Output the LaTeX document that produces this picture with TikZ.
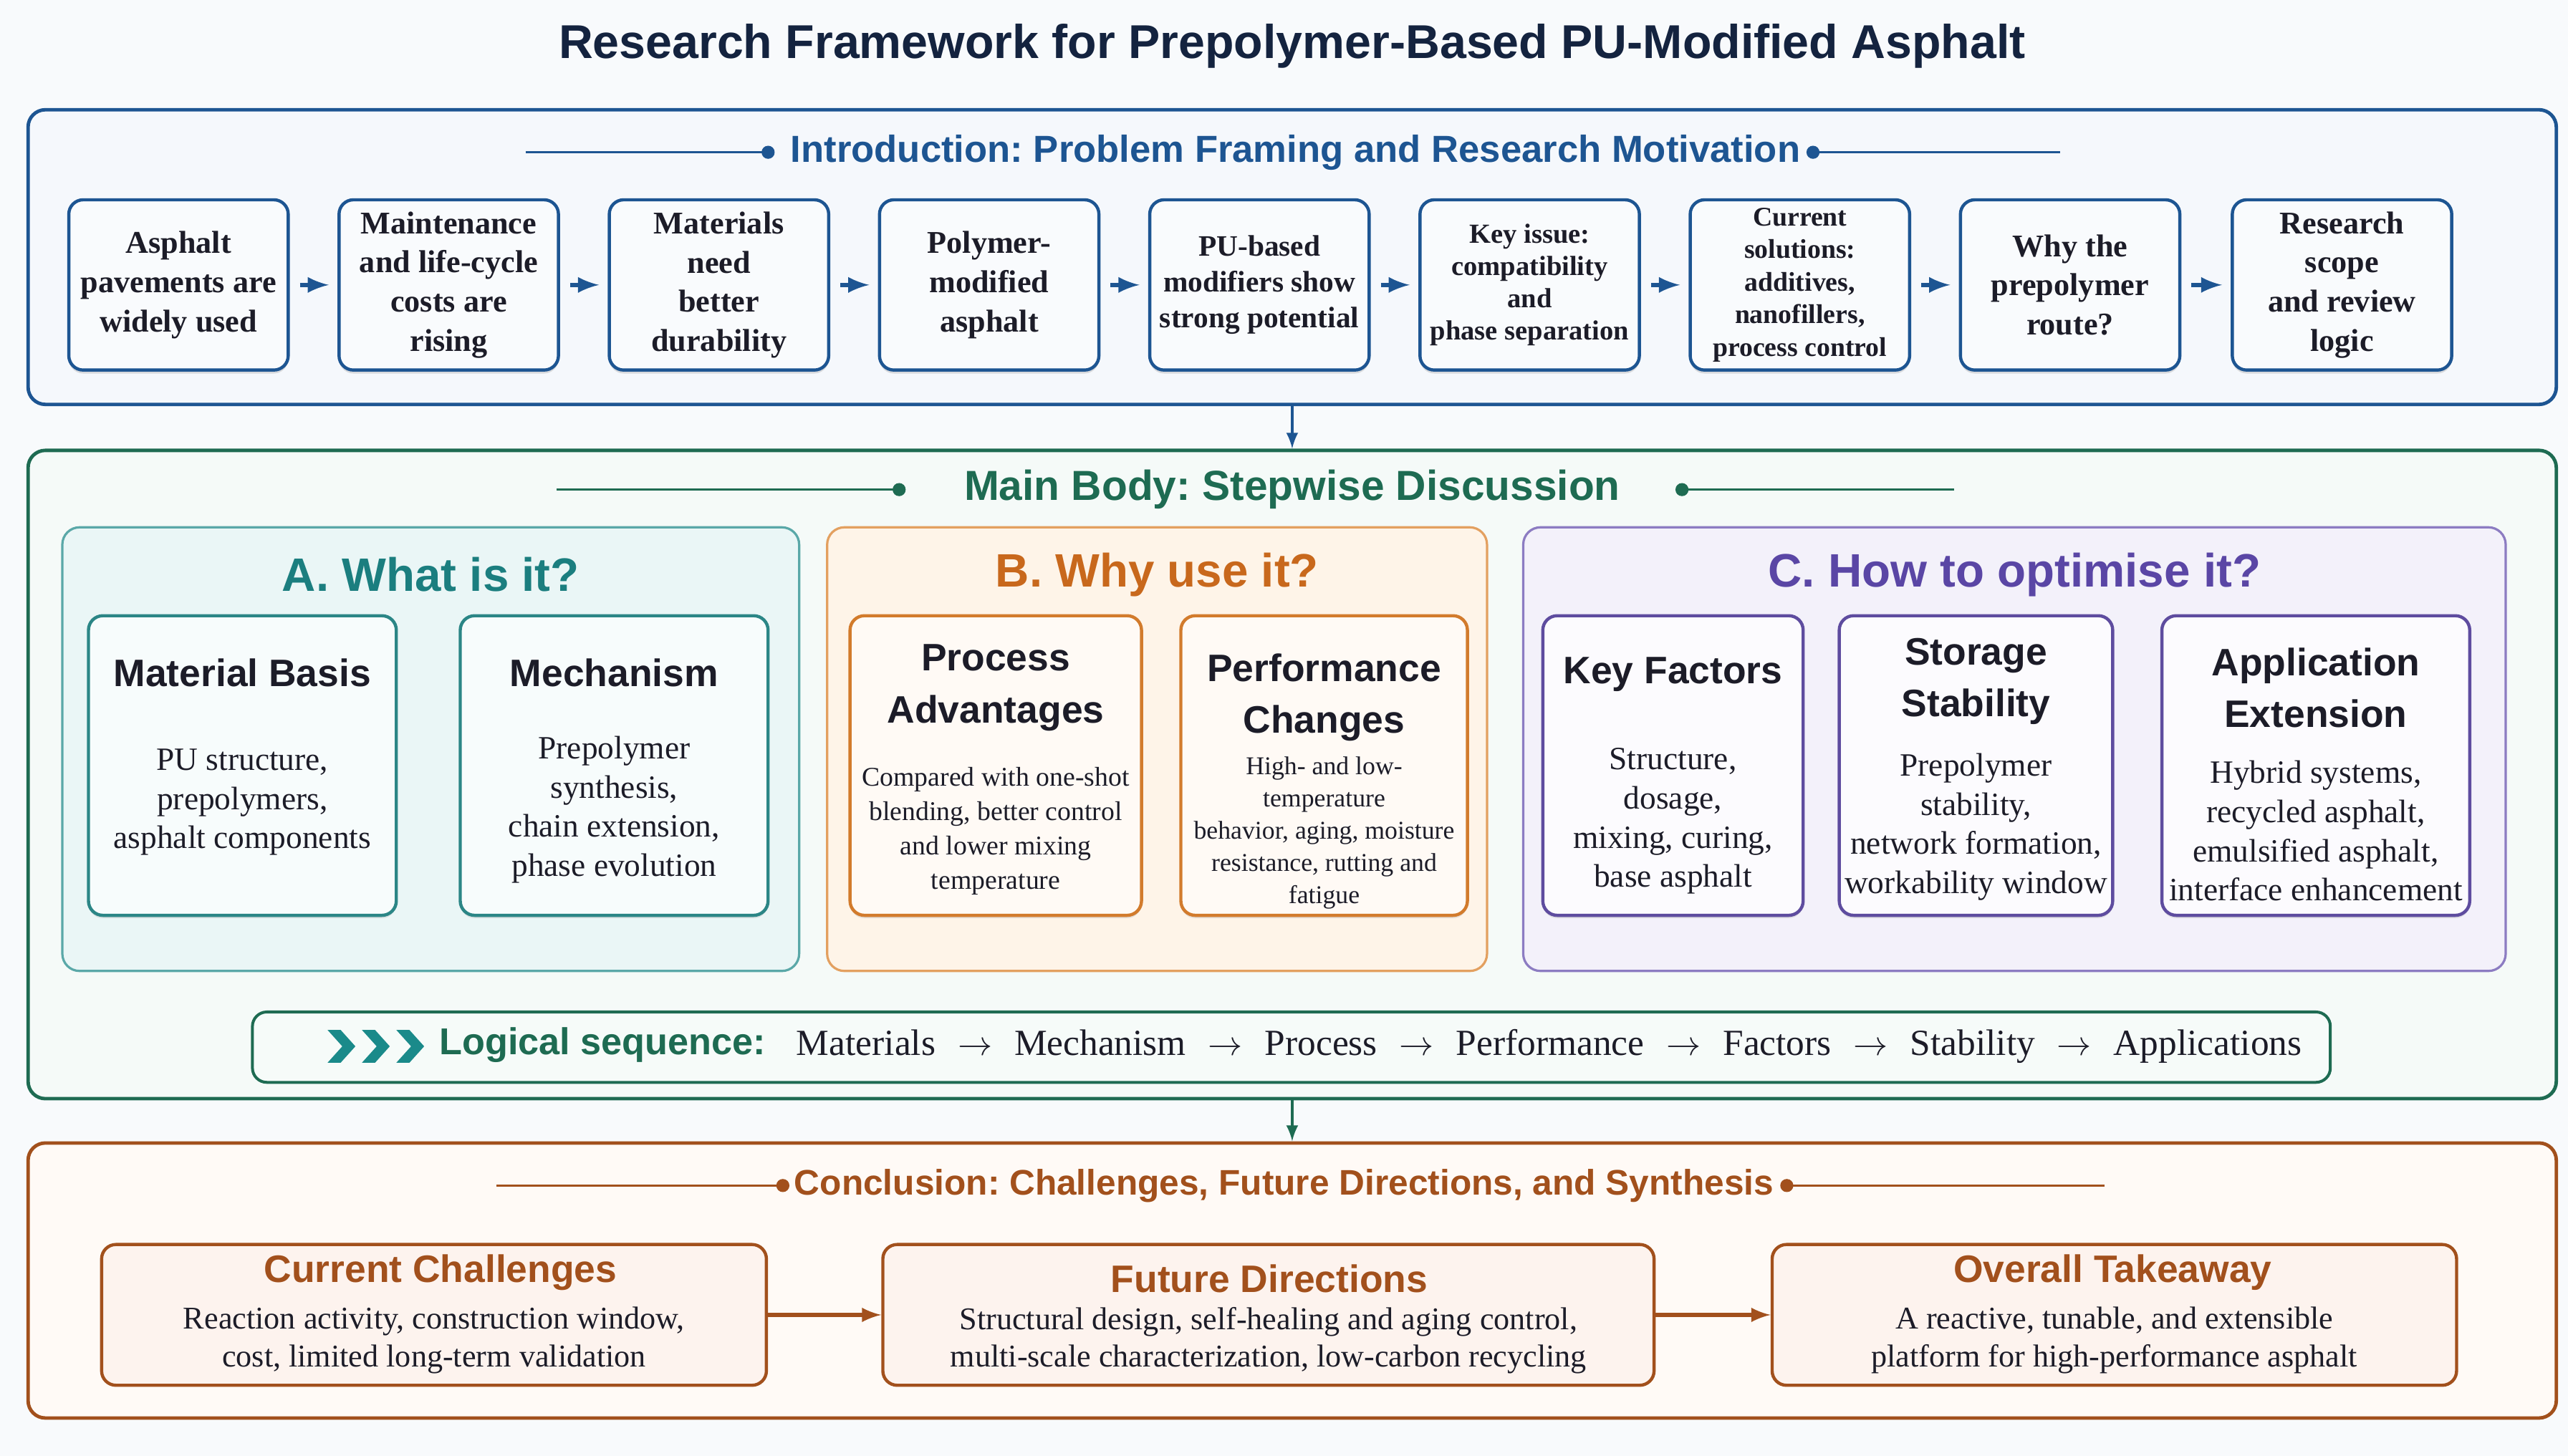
\documentclass[tikz,border=0pt]{standalone}
\usepackage{fontspec}
\setmainfont{Liberation Serif}
\newfontfamily\headfont{Liberation Sans}
\usetikzlibrary{arrows.meta, positioning, calc, shadows}
\frenchspacing

\definecolor{bgcol}{HTML}{F8FAFC}
\definecolor{navy}{HTML}{14233F}
\definecolor{textdark}{HTML}{1C1C28}
\definecolor{introblue}{HTML}{1D5592}
\definecolor{introfill}{HTML}{F5F8FC}
\definecolor{stepfill}{HTML}{F9FBFD}
\definecolor{maingreen}{HTML}{1E6B52}
\definecolor{mainfill}{HTML}{F5FAF8}
\definecolor{tealtext}{HTML}{1B7E7F}
\definecolor{tealline}{HTML}{5AA8A8}
\definecolor{tealfill}{HTML}{EAF6F6}
\definecolor{tealbox}{HTML}{2B8686}
\definecolor{tealboxfill}{HTML}{F7FCFC}
\definecolor{orangetext}{HTML}{C8681C}
\definecolor{orangeline}{HTML}{E3A060}
\definecolor{orangefill}{HTML}{FEF4E8}
\definecolor{orangebox}{HTML}{D27B2C}
\definecolor{orangeboxfill}{HTML}{FFFAF5}
\definecolor{purpletext}{HTML}{5A46A5}
\definecolor{purpleline}{HTML}{8C7CC2}
\definecolor{purplefill}{HTML}{F3F1FA}
\definecolor{purplebox}{HTML}{5E4C9F}
\definecolor{purpleboxfill}{HTML}{FCFBFE}
\definecolor{logicfill}{HTML}{F6FBF9}
\definecolor{chevron}{HTML}{1A8A8A}
\definecolor{conbrown}{HTML}{A2501C}
\definecolor{confill}{HTML}{FFFAF6}
\definecolor{conboxfill}{HTML}{FDF3EE}

\newcommand{\nextstep}{\hspace{0.6em}$\rightarrow$\hspace{0.6em}}

\begin{document}
\begin{tikzpicture}[x=0.02cm, y=-0.02cm, >=latex,
    secbox/.style={draw, line width=1.2pt, rounded corners=6pt, minimum width=30.88cm, inner sep=0pt},
    sechead/.style={font=\headfont\bfseries\fontsize{13.1}{15}\selectfont},
    stepbox/.style={draw=introblue, line width=1.1pt, fill=stepfill, rounded corners=5pt,
        minimum width=2.68cm, minimum height=2.08cm, inner sep=0pt, align=center, text=textdark,
        font=\bfseries\fontsize{11}{13.6}\selectfont,
        drop shadow={shadow xshift=0pt, shadow yshift=-1.2pt, opacity=0.25}},
    panel/.style={draw, line width=0.8pt, rounded corners=6pt, minimum height=5.42cm, inner sep=0pt},
    paneltitle/.style={font=\headfont\bfseries\fontsize{16.3}{20}\selectfont},
    subbox/.style={draw, line width=1.1pt, rounded corners=5pt, minimum height=3.66cm, inner sep=0pt,
        drop shadow={shadow xshift=0pt, shadow yshift=-1pt, opacity=0.2}},
    subtitle/.style={font=\headfont\bfseries\fontsize{13.3}{18}\selectfont, align=center, text=textdark},
    subbody/.style={font=\fontsize{11.3}{13.6}\selectfont, align=center, text=textdark},
    conbox/.style={draw=conbrown, line width=1.1pt, fill=conboxfill, rounded corners=5pt,
        minimum height=1.72cm, inner sep=0pt},
    contitle/.style={font=\headfont\bfseries\fontsize{13.3}{16}\selectfont, text=conbrown},
    conbody/.style={font=\fontsize{11}{13}\selectfont, align=center, text=textdark},
]
    % page
    \fill[bgcol] (0,0) rectangle (1568,889);
    \useasboundingbox (0,0) rectangle (1568,889);

    \node[font=\headfont\bfseries\fontsize{16.5}{20}\selectfont, text=navy] (title) at (789,28)
        {Research Framework for Prepolymer-Based PU-Modified Asphalt};

    % introduction
    \node[secbox, draw=introblue, fill=introfill, minimum height=3.6cm] (intro) at (789,157) {};
    \node[sechead, text=introblue] (introH) at (791,93) {Introduction: Problem Framing and Research Motivation};
    \coordinate (introL) at (321,93);
    \coordinate (introLd) at (469,93);
    \coordinate (introRd) at (1107,93);
    \coordinate (introR) at (1258,93);
    \draw[introblue, line width=0.9pt] (introL) -- (introLd);
    \draw[introblue, line width=0.9pt] (introRd) -- (introR);
    \fill[introblue] (introLd) circle (4) (introRd) circle (4);

    \node[stepbox] (i1) at (109,174) {Asphalt\\pavements are\\widely used};
    \node[stepbox] (i2) at (274,174) {Maintenance\\and life-cycle\\costs are\\rising};
    \node[stepbox] (i3) at (439,174) {Materials\\need\\better\\durability};
    \node[stepbox] (i4) at (604,174) {Polymer-\\modified\\asphalt};
    \node[stepbox, font=\bfseries\fontsize{10.3}{12.5}\selectfont] (i5) at (769,174) {PU-based\\modifiers show\\strong potential};
    \node[stepbox, font=\bfseries\fontsize{9.6}{11.2}\selectfont] (i6) at (934,174) {Key issue:\\compatibility\\and\\phase separation};
    \node[stepbox, font=\bfseries\fontsize{9.4}{11.3}\selectfont] (i7) at (1099,174) {Current\\solutions:\\additives,\\nanofillers,\\process control};
    \node[stepbox] (i8) at (1264,174) {Why the\\prepolymer\\route?};
    \node[stepbox] (i9) at (1430,174) {Research\\scope\\and review\\logic};

    \foreach \a/\b in {i1/i2, i2/i3, i3/i4, i4/i5, i5/i6, i6/i7, i7/i8, i8/i9}
        \draw[->, introblue, line width=1.5pt, shorten <=3.5pt, shorten >=3pt] (\a) -- (\b);

    % main body
    \node[secbox, draw=maingreen, fill=mainfill, minimum height=7.92cm] (main) at (789,473) {};
    \draw[->, introblue, line width=0.9pt] (intro.south) -- (main.north);
    \node[sechead, font=\headfont\bfseries\fontsize{14.6}{17}\selectfont, text=maingreen] (mainH) at (789,299)
        {Main Body: Stepwise Discussion};
    \coordinate (mainL) at (340,299);
    \coordinate (mainLd) at (549,299);
    \coordinate (mainRd) at (1027,299);
    \coordinate (mainR) at (1193,299);
    \draw[maingreen, line width=0.9pt] (mainL) -- (mainLd);
    \draw[maingreen, line width=0.9pt] (mainRd) -- (mainR);
    \fill[maingreen] (mainLd) circle (4) (mainRd) circle (4);

    % A
    \node[panel, draw=tealline, fill=tealfill, minimum width=9cm] (pA) at (263,457.5) {};
    \node[paneltitle, text=tealtext] (pAT) at (263,351) {A. What is it?};
    \node[subbox, draw=tealbox, fill=tealboxfill, minimum width=3.76cm] (mb) at (148,467.5) {};
    \node[subtitle] (mbT) at (148,411) {Material Basis};
    \node[subbody] (mbB) at (148,490) {PU structure,\\prepolymers,\\asphalt components};
    \node[subbox, draw=tealbox, fill=tealboxfill, minimum width=3.76cm] (mech) at (375,467.5) {};
    \node[subtitle] (mechT) at (375,411) {Mechanism};
    \node[subbody] (mechB) at (375,494.5) {Prepolymer\\synthesis,\\chain extension,\\phase evolution};

    % B
    \node[panel, draw=orangeline, fill=orangefill, minimum width=8.06cm] (pB) at (706.5,457.5) {};
    \node[paneltitle, text=orangetext] (pBT) at (706.5,351) {B. Why use it?};
    \node[subbox, draw=orangebox, fill=orangeboxfill, minimum width=3.56cm] (proc) at (608,467.5) {};
    \node[subtitle] (procT) at (608,420) {Process\\Advantages};
    \node[subbody, font=\fontsize{9.4}{11.9}\selectfont] (procB) at (608,507.5)
        {Compared with one-shot\\blending, better control\\and lower mixing\\temperature};
    \node[subbox, draw=orangebox, fill=orangeboxfill, minimum width=3.5cm] (perf) at (808.5,467.5) {};
    \node[subtitle] (perfT) at (808.5,426) {Performance\\Changes};
    \node[subbody, font=\fontsize{8.9}{11.2}\selectfont] (perfB) at (808.5,508.5)
        {High- and low-\\temperature\\behavior, aging, moisture\\resistance, rutting and\\fatigue};

    % C
    \node[panel, draw=purpleline, fill=purplefill, minimum width=12cm] (pC) at (1230,457.5) {};
    \node[paneltitle, text=purpletext] (pCT) at (1230,351) {C. How to optimise it?};
    \node[subbox, draw=purplebox, fill=purpleboxfill, minimum width=3.18cm] (keyf) at (1021.5,467.5) {};
    \node[subtitle] (keyfT) at (1021.5,412) {Key Factors};
    \node[subbody] (keyfB) at (1021.5,501.5) {Structure,\\dosage,\\mixing, curing,\\base asphalt};
    \node[subbox, draw=purplebox, fill=purpleboxfill, minimum width=3.34cm] (stor) at (1206.5,467.5) {};
    \node[subtitle] (storT) at (1206.5,416) {Storage\\Stability};
    \node[subbody] (storB) at (1206.5,505) {Prepolymer\\stability,\\network formation,\\workability window};
    \node[subbox, draw=purplebox, fill=purpleboxfill, minimum width=3.76cm] (appl) at (1414,467.5) {};
    \node[subtitle] (applT) at (1414,420) {Application\\Extension};
    \node[subbody] (applB) at (1414,507.5) {Hybrid systems,\\recycled asphalt,\\emulsified asphalt,\\interface enhancement};

    % logical sequence
    \node[draw=maingreen, line width=1pt, fill=logicfill, rounded corners=5pt,
        minimum width=25.38cm, minimum height=0.86cm, inner sep=0pt] (logic) at (788.5,639.5) {};
    \foreach \cx in {200,221,242}
        \fill[chevron] (\cx,629) -- (\cx+8,629) -- (\cx+17,639) -- (\cx+8,649) -- (\cx,649) -- (\cx+9,639) -- cycle;
    \node[font=\headfont\bfseries\fontsize{13}{15}\selectfont, text=maingreen, anchor=west, inner sep=0pt]
        (logicL) at (268,638) {Logical sequence:};
    \node[font=\fontsize{12.8}{15}\selectfont, text=textdark, anchor=west, inner sep=0pt] (logicS) at (486,639)
        {Materials\nextstep Mechanism\nextstep Process\nextstep Performance\nextstep Factors\nextstep Stability\nextstep Applications};

    % conclusion
    \node[secbox, draw=conbrown, fill=confill, minimum height=3.36cm] (concl) at (789,782) {};
    \draw[->, maingreen, line width=0.9pt] (main.south) -- (concl.north);
    \node[sechead, font=\headfont\bfseries\fontsize{12.35}{15}\selectfont, text=conbrown] (conclH) at (784,724)
        {Conclusion: Challenges, Future Directions, and Synthesis};
    \coordinate (conclL) at (303,724);
    \coordinate (conclLd) at (478,724);
    \coordinate (conclRd) at (1091,724);
    \coordinate (conclR) at (1285,724);
    \draw[conbrown, line width=0.9pt] (conclL) -- (conclLd);
    \draw[conbrown, line width=0.9pt] (conclRd) -- (conclR);
    \fill[conbrown] (conclLd) circle (4) (conclRd) circle (4);

    \node[conbox, minimum width=8.12cm] (cc) at (265,803) {};
    \node[contitle] (ccT) at (269,777) {Current Challenges};
    \node[conbody] (ccB) at (265,818.5) {Reaction activity, construction window,\\cost, limited long-term validation};
    \node[conbox, minimum width=9.42cm] (fd) at (774.5,803) {};
    \node[contitle] (fdT) at (775,781) {Future Directions};
    \node[conbody] (fdB) at (774.5,818.5) {Structural design, self-healing and aging control,\\multi-scale characterization, low-carbon recycling};
    \node[conbox, minimum width=8.36cm] (ot) at (1291,803) {};
    \node[contitle] (otT) at (1290,777) {Overall Takeaway};
    \node[conbody] (otB) at (1291,818.5) {A reactive, tunable, and extensible\\platform for high-performance asphalt};

    \draw[->, conbrown, line width=1.3pt] (cc) -- (fd);
    \draw[->, conbrown, line width=1.3pt] (fd) -- (ot);
\end{tikzpicture}
\end{document}
